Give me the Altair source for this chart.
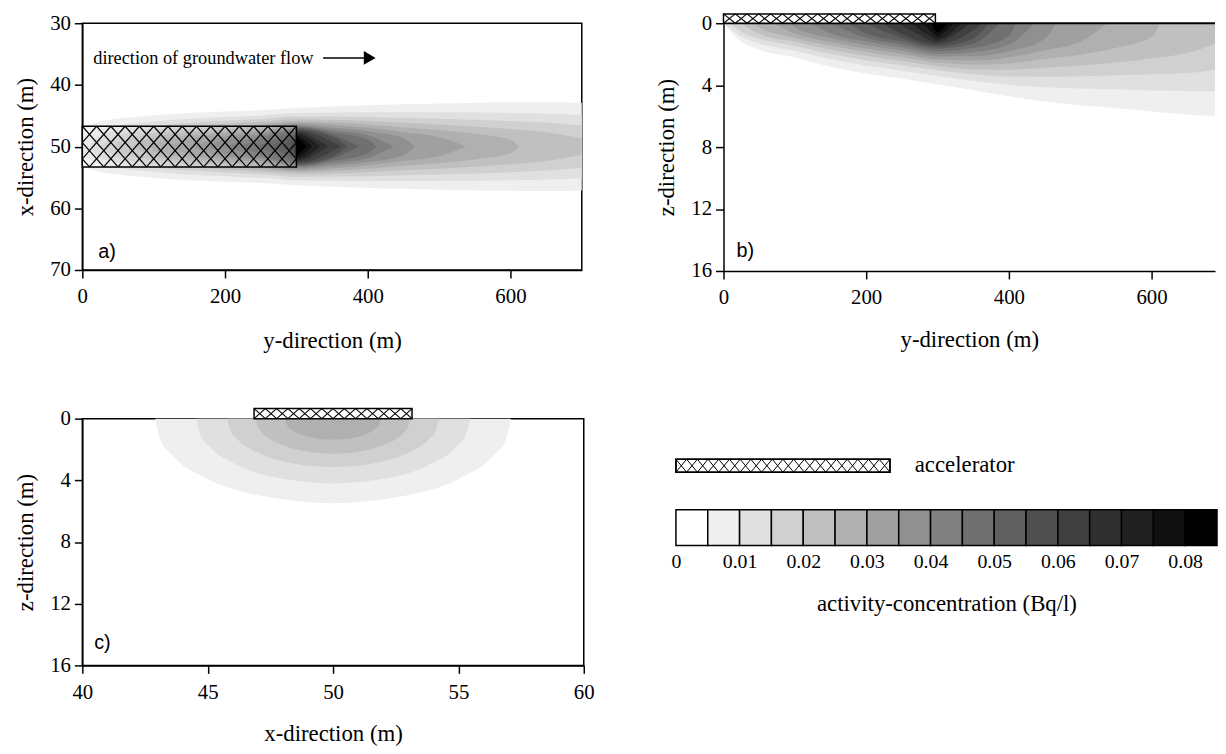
import altair as alt
import pandas as pd

SERIF = "Liberation Serif"
SANS = "Liberation Sans"

# ---------------- colour classes (activity concentration, Bq/l) ----------------
GRAYS = ["#ffffff", "#efefef", "#e0e0e0", "#d0d0d0", "#c0c0c0", "#b0b0b0",
         "#a0a0a0", "#909090", "#808080", "#707070", "#606060", "#505050",
         "#404040", "#303030", "#202020", "#101010", "#000000"]
CBAR_EDGES = [0.0, 0.005, 0.01, 0.015, 0.02, 0.025, 0.03, 0.035, 0.04, 0.045,
              0.05, 0.055, 0.06, 0.065, 0.07, 0.075, 0.08, 0.085]
CBAR_LABELS = [0.0, 0.01, 0.02, 0.03, 0.04, 0.05, 0.06, 0.07, 0.08]

# ---------------- panel a: plan view, half-width of each contour around x = 50 m ----------------
A_CENTER = 50.0
A_Y = {
    1: [0, 25, 50, 100, 150, 200, 250, 300, 350, 400, 450, 500, 550, 600, 650, 700],
    2: [0, 25, 50, 100, 150, 200, 250, 300, 350, 400, 450, 500, 550, 600, 650, 700],
    3: [9, 25, 50, 100, 150, 200, 250, 300, 350, 400, 450, 500, 550, 600, 650, 700],
    4: [25, 50, 100, 150, 200, 250, 300, 350, 400, 450, 500, 550, 600, 650, 700],
    5: [46, 50, 100, 150, 200, 250, 300, 350, 400, 450, 500, 550, 600, 612],
    6: [70, 100, 150, 200, 250, 300, 350, 400, 450, 500, 538],
    7: [95, 100, 150, 200, 250, 300, 350, 400, 450, 466],
    8: [122, 150, 200, 250, 300, 350, 400, 436],
    9: [150, 200, 250, 300, 350, 400, 412],
    10: [175, 200, 250, 300, 350, 388],
    11: [200, 250, 300, 350, 372],
    12: [222, 250, 300, 340, 362],
    13: [245, 270, 300, 325, 345],
    14: [263, 285, 300, 318, 333],
    15: [280, 292, 300, 310, 322],
    16: [292, 300, 306, 314],
}
A_HW = {
    1: [3.18, 4.08, 4.54, 5.07, 5.45, 5.69, 5.91, 6.27, 6.51, 6.70, 6.85, 6.99, 7.13, 7.17, 7.21, 7.11],
    2: [1.45, 2.88, 3.46, 4.08, 4.51, 4.80, 5.05, 5.44, 5.54, 5.58, 5.56, 5.56, 5.55, 5.46, 5.36, 5.12],
    3: [0.0, 1.86, 2.62, 3.37, 3.85, 4.19, 4.48, 4.88, 4.89, 4.80, 4.64, 4.52, 4.36, 4.14, 3.89, 3.44],
    4: [0.0, 1.81, 2.76, 3.31, 3.70, 4.02, 4.45, 4.36, 4.17, 3.85, 3.60, 3.28, 2.86, 2.33, 1.31],
    5: [0.0, 0.70, 2.18, 2.82, 3.27, 3.62, 4.08, 3.91, 3.60, 3.11, 2.68, 2.07, 1.11, 0.0],
    6: [0.0, 1.54, 2.34, 2.86, 3.27, 3.85, 3.49, 3.05, 2.34, 1.57, 0.0],
    7: [0.0, 0.61, 1.84, 2.47, 2.93, 3.60, 3.10, 2.50, 1.38, 0.0],
    8: [0.0, 1.26, 2.07, 2.60, 3.40, 2.75, 1.90, 0.0],
    9: [0.0, 1.65, 2.30, 3.20, 2.35, 1.13, 0.0],
    10: [0.0, 1.14, 2.00, 3.00, 1.95, 0.0],
    11: [0.0, 1.70, 2.80, 1.60, 0.0],
    12: [0.0, 1.30, 2.60, 1.40, 0.0],
    13: [0.0, 1.20, 2.40, 1.40, 0.0],
    14: [0.0, 1.30, 2.10, 1.30, 0.0],
    15: [0.0, 1.20, 1.80, 1.20, 0.0],
    16: [0.0, 1.40, 0.90, 0.0],
}

# ---------------- panel b: section along flow, depth reached by each contour ----------------
B_Y = {
    1: [0, 25, 50, 100, 150, 200, 250, 300, 350, 400, 450, 500, 550, 600, 650, 700],
    2: [0, 25, 50, 100, 150, 200, 250, 300, 350, 400, 450, 500, 550, 600, 650, 700],
    3: [9, 25, 50, 100, 150, 200, 250, 300, 350, 400, 450, 500, 550, 600, 650, 700],
    4: [25, 50, 100, 150, 200, 250, 300, 350, 400, 450, 500, 550, 600, 650, 700],
    5: [46, 50, 100, 150, 200, 250, 300, 350, 400, 450, 500, 550, 600, 612],
    6: [70, 100, 150, 200, 250, 300, 350, 400, 450, 500, 538],
    7: [95, 100, 150, 200, 250, 300, 350, 400, 450, 466],
    8: [122, 150, 200, 250, 300, 350, 400, 436],
    9: [150, 200, 250, 300, 350, 400, 410],
    10: [175, 200, 250, 300, 350, 387],
    11: [200, 250, 300, 350, 372],
    12: [222, 250, 300, 340, 362],
    13: [245, 270, 300, 325, 345],
    14: [263, 285, 300, 318, 333],
    15: [280, 292, 300, 310, 322],
    16: [292, 300, 306, 314],
}
B_Z = {
    1: [0.0, 1.20, 1.71, 2.21, 2.81, 3.24, 3.59, 3.95, 4.32, 4.72, 5.05, 5.30, 5.49, 5.70, 5.90, 6.05],
    2: [0.0, 0.85, 1.30, 1.78, 2.32, 2.73, 3.07, 3.40, 3.72, 3.98, 4.13, 4.22, 4.27, 4.34, 4.38, 4.40],
    3: [0.0, 0.55, 0.99, 1.47, 1.99, 2.39, 2.72, 3.04, 3.30, 3.44, 3.45, 3.43, 3.36, 3.29, 3.22, 2.93],
    4: [0.0, 0.68, 1.20, 1.71, 2.10, 2.44, 2.77, 2.98, 3.00, 2.87, 2.73, 2.53, 2.27, 1.93, 1.11],
    5: [0.0, 0.26, 0.95, 1.45, 1.86, 2.20, 2.54, 2.68, 2.60, 2.31, 2.03, 1.60, 0.88, 0.0],
    6: [0.0, 0.67, 1.21, 1.63, 1.98, 2.34, 2.41, 2.21, 1.74, 1.19, 0.0],
    7: [0.0, 0.26, 0.95, 1.41, 1.78, 2.15, 2.14, 1.81, 1.02, 0.0],
    8: [0.0, 0.65, 1.18, 1.58, 1.98, 1.87, 1.38, 0.0],
    9: [0.0, 0.94, 1.38, 1.81, 1.60, 0.82, 0.0],
    10: [0.0, 0.65, 1.18, 1.64, 1.31, 0.0],
    11: [0.0, 0.95, 1.50, 0.98, 0.0],
    12: [0.0, 0.69, 1.35, 0.75, 0.0],
    13: [0.0, 0.65, 1.20, 0.70, 0.0],
    14: [0.0, 0.70, 1.05, 0.65, 0.0],
    15: [0.0, 0.55, 0.85, 0.55, 0.0],
    16: [0.0, 0.60, 0.40, 0.0],
}

# ---------------- panel c: cross-section, depth of each contour across x ----------------
C_X = {
    1: [42.90, 43.10, 43.60, 45.00, 47.20, 50.00, 52.80, 55.00, 56.40, 56.90, 57.10],
    2: [44.53, 44.70, 45.08, 46.17, 47.81, 50.00, 52.19, 53.83, 54.92, 55.30, 55.47],
    3: [45.77, 45.90, 46.19, 47.04, 48.31, 50.00, 51.69, 52.96, 53.81, 54.10, 54.23],
    4: [46.92, 47.01, 47.23, 47.84, 48.77, 50.00, 51.23, 52.16, 52.77, 52.99, 53.08],
    5: [48.08, 48.14, 48.27, 48.66, 49.23, 50.00, 50.77, 51.34, 51.73, 51.86, 51.92],
}
C_Z = {
    1: [0.0, 1.33, 2.39, 3.91, 5.02, 5.48, 5.02, 3.91, 2.39, 1.33, 0.0],
    2: [0.0, 1.02, 1.83, 3.00, 3.85, 4.20, 3.85, 3.00, 1.83, 1.02, 0.0],
    3: [0.0, 0.76, 1.36, 2.23, 2.87, 3.13, 2.87, 2.23, 1.36, 0.76, 0.0],
    4: [0.0, 0.55, 0.99, 1.62, 2.08, 2.27, 2.08, 1.62, 0.99, 0.55, 0.0],
    5: [0.0, 0.33, 0.60, 0.98, 1.26, 1.37, 1.26, 0.98, 0.60, 0.33, 0.0],
}

# accelerator footprint
ACC_Y = [0.0, 300.0]          # along flow (m)
ACC_X = [46.7, 53.3]          # across flow (m)
ACC_ZTOP = -0.6               # drawn above ground level in the sections

# ---------------- layout (pixels) ----------------
W_A, H_A = 504, 249
W_B, H_B = 496, 250
W_C, H_C = 506, 249
W_L, H_L = 546, 128
A_YDOM, A_XDOM = [0, 700], [30, 70]
B_YDOM, Z_DOM = [0, 689], [0, 16]
C_XDOM = [40, 60]
TITLE_SIZE = 23
LABEL_SIZE = 21


def hatch(width_px, height_px, ph, pv):
    s = pv / ph
    run = height_px / s
    segs = []
    n = -int(run // ph) - 2
    while n * ph <= width_px + run + ph:
        c = n * ph
        a0, a1 = max(c, 0.0), min(c + run, width_px)
        if a1 - a0 > 1e-6:
            segs.append((a0, s * (a0 - c), a1, s * (a1 - c)))
        b0, b1 = max(c - run, 0.0), min(c, width_px)
        if b1 - b0 > 1e-6:
            segs.append((b0, s * (c - b0), b1, s * (c - b1)))
        n += 1
    return segs


def hatch_df(u_start, u_scale, v_start, v_scale, width_px, height_px, ph, pv):
    rows = []
    for ua, va, ub, vb in hatch(width_px, height_px, ph, pv):
        rows.append({"u1": u_start + ua / u_scale, "u2": u_start + ub / u_scale,
                     "v1": v_start + va / v_scale, "v2": v_start + vb / v_scale})
    return pd.DataFrame(rows)


axis_common = dict(tickSize=8, labelFontSize=LABEL_SIZE, titleFontSize=TITLE_SIZE, labelFont=SERIF,
                   titleFont=SERIF, titleFontWeight="normal", labelColor="black",
                   titleColor="black", domainColor="black", tickColor="black",
                   domainWidth=1.5, tickWidth=1.5, grid=False, labelFlush=False,
                   labelOverlap=False)

one = pd.DataFrame({"k": [0]})

# ================= panel a =================
xa = alt.Scale(domain=A_YDOM, nice=False, zero=False)
ya = alt.Scale(domain=A_XDOM, nice=False, zero=False, reverse=True)
axa = alt.Axis(values=[0, 200, 400, 600], title="y-direction (m)", labelPadding=8,
               titlePadding=23, **axis_common)
aya = alt.Axis(values=[30, 40, 50, 60, 70], title="x-direction (m)", labelPadding=4,
               titlePadding=12, **axis_common)

layers_a = []
for k in range(1, 17):
    df = pd.DataFrame({"y": A_Y[k],
                       "lo": [A_CENTER - h for h in A_HW[k]],
                       "hi": [A_CENTER + h for h in A_HW[k]]})
    layers_a.append(alt.Chart(df).mark_area(color=GRAYS[k], interpolate="monotone")
                    .encode(x=alt.X("y:Q", scale=xa, axis=axa),
                            y=alt.Y("lo:Q", scale=ya, axis=aya), y2="hi:Q"))

acc_a = pd.DataFrame({"y0": [ACC_Y[0]], "y1": [ACC_Y[1]], "x0": [ACC_X[0]], "x1": [ACC_X[1]]})
layers_a.append(alt.Chart(acc_a).mark_rect(fill="white", fillOpacity=0.3)
                .encode(x=alt.X("y0:Q", scale=xa, axis=axa), x2="y1:Q",
                        y=alt.Y("x0:Q", scale=ya, axis=aya), y2="x1:Q"))
pu_a = W_A / (A_YDOM[1] - A_YDOM[0])
pv_a = H_A / (A_XDOM[1] - A_XDOM[0])
wa = (ACC_Y[1] - ACC_Y[0]) * pu_a
ha = (ACC_X[1] - ACC_X[0]) * pv_a
ha_df = hatch_df(ACC_Y[0], pu_a, ACC_X[0], pv_a, wa, ha, wa / 15, ha / 2.5)
layers_a.append(alt.Chart(ha_df).mark_rule(color="black", strokeWidth=1.2)
                .encode(x=alt.X("u1:Q", scale=xa, axis=axa), x2="u2:Q",
                        y=alt.Y("v1:Q", scale=ya, axis=aya), y2="v2:Q"))
layers_a.append(alt.Chart(acc_a).mark_rect(fill=None, stroke="black", strokeWidth=1.5)
                .encode(x=alt.X("y0:Q", scale=xa, axis=axa), x2="y1:Q",
                        y=alt.Y("x0:Q", scale=ya, axis=aya), y2="x1:Q"))
layers_a.append(alt.Chart(one).mark_text(text="direction of groundwater flow", font=SERIF,
                                         fontSize=18.5, align="left", baseline="middle", color="black")
                .encode(x=alt.value(11), y=alt.value(35)))
layers_a.append(alt.Chart(one).mark_rule(color="black", strokeWidth=1.5)
                .encode(x=alt.value(243), x2=alt.value(286), y=alt.value(35)))
layers_a.append(alt.Chart(one).mark_point(shape="triangle-right", filled=True, size=190,
                                          color="black", opacity=1)
                .encode(x=alt.value(290), y=alt.value(35)))
layers_a.append(alt.Chart(one).mark_text(text="a)", font=SANS, fontSize=20, align="left",
                                         baseline="middle", color="black")
                .encode(x=alt.value(16), y=alt.value(231)))
panel_a = alt.layer(*layers_a).properties(
    width=W_A, height=H_A, view=alt.ViewBackground(stroke="black", strokeWidth=1.5))

# ================= panel b =================
xb = alt.Scale(domain=B_YDOM, nice=False, zero=False)
zb = alt.Scale(domain=Z_DOM, nice=False, zero=False, reverse=True)
axb = alt.Axis(values=[0, 200, 400, 600], title="y-direction (m)", labelPadding=8,
               titlePadding=21, **axis_common)
azb = alt.Axis(values=[0, 4, 8, 12, 16], title="z-direction (m)", labelPadding=4,
               titlePadding=12, **axis_common)
layers_b = []
for k in range(1, 17):
    df = pd.DataFrame({"y": B_Y[k], "z0": [0.0] * len(B_Y[k]), "z": B_Z[k]})
    layers_b.append(alt.Chart(df).mark_area(color=GRAYS[k], interpolate="monotone", clip=True)
                    .encode(x=alt.X("y:Q", scale=xb, axis=axb),
                            y=alt.Y("z0:Q", scale=zb, axis=azb), y2="z:Q"))
layers_b.append(alt.Chart(pd.DataFrame({"z": [0.0]})).mark_rule(color="black", strokeWidth=2)
                .encode(y=alt.Y("z:Q", scale=zb, axis=azb)))
acc_b = pd.DataFrame({"y0": [ACC_Y[0]], "y1": [ACC_Y[1] - 3], "z0": [ACC_ZTOP], "z1": [0.0]})
layers_b.append(alt.Chart(acc_b).mark_rect(fill="white")
                .encode(x=alt.X("y0:Q", scale=xb, axis=axb), x2="y1:Q",
                        y=alt.Y("z0:Q", scale=zb, axis=azb), y2="z1:Q"))
pu_b = W_B / (B_YDOM[1] - B_YDOM[0])
pv_b = H_B / (Z_DOM[1] - Z_DOM[0])
wb = (ACC_Y[1] - 3 - ACC_Y[0]) * pu_b
hb = (0.0 - ACC_ZTOP) * pv_b
hb_df = hatch_df(ACC_Y[0], pu_b, ACC_ZTOP, pv_b, wb, hb, wb / 18, hb)
layers_b.append(alt.Chart(hb_df).mark_rule(color="black", strokeWidth=1.1)
                .encode(x=alt.X("u1:Q", scale=xb, axis=axb), x2="u2:Q",
                        y=alt.Y("v1:Q", scale=zb, axis=azb), y2="v2:Q"))
layers_b.append(alt.Chart(acc_b).mark_rect(fill=None, stroke="black", strokeWidth=1.5)
                .encode(x=alt.X("y0:Q", scale=xb, axis=axb), x2="y1:Q",
                        y=alt.Y("z0:Q", scale=zb, axis=azb), y2="z1:Q"))
layers_b.append(alt.Chart(one).mark_text(text="b)", font=SANS, fontSize=20, align="left",
                                         baseline="middle", color="black")
                .encode(x=alt.value(13), y=alt.value(230)))
panel_b = alt.layer(*layers_b).properties(width=W_B, height=H_B)

# ================= panel c =================
xc = alt.Scale(domain=C_XDOM, nice=False, zero=False)
zc = alt.Scale(domain=Z_DOM, nice=False, zero=False, reverse=True)
axc = alt.Axis(values=[40, 45, 50, 55, 60], title="x-direction (m)", labelPadding=8,
               titlePadding=21, **axis_common)
azc = alt.Axis(values=[0, 4, 8, 12, 16], title="z-direction (m)", labelPadding=4,
               titlePadding=12, **axis_common)
layers_c = []
for k in range(1, 6):
    df = pd.DataFrame({"x": C_X[k], "z0": [0.0] * len(C_X[k]), "z": C_Z[k]})
    layers_c.append(alt.Chart(df).mark_area(color=GRAYS[k], interpolate="monotone")
                    .encode(x=alt.X("x:Q", scale=xc, axis=axc),
                            y=alt.Y("z0:Q", scale=zc, axis=azc), y2="z:Q"))
acc_c = pd.DataFrame({"x0": [46.85], "x1": [53.15], "z0": [-0.65], "z1": [0.0]})
layers_c.append(alt.Chart(acc_c).mark_rect(fill="white")
                .encode(x=alt.X("x0:Q", scale=xc, axis=axc), x2="x1:Q",
                        y=alt.Y("z0:Q", scale=zc, axis=azc), y2="z1:Q"))
pu_c = W_C / (C_XDOM[1] - C_XDOM[0])
pv_c = H_C / (Z_DOM[1] - Z_DOM[0])
wc = (53.15 - 46.85) * pu_c
hc = 0.65 * pv_c
hc_df = hatch_df(46.85, pu_c, -0.65, pv_c, wc, hc, wc / 14, hc)
layers_c.append(alt.Chart(hc_df).mark_rule(color="black", strokeWidth=1.1)
                .encode(x=alt.X("u1:Q", scale=xc, axis=axc), x2="u2:Q",
                        y=alt.Y("v1:Q", scale=zc, axis=azc), y2="v2:Q"))
layers_c.append(alt.Chart(acc_c).mark_rect(fill=None, stroke="black", strokeWidth=1.5)
                .encode(x=alt.X("x0:Q", scale=xc, axis=axc), x2="x1:Q",
                        y=alt.Y("z0:Q", scale=zc, axis=azc), y2="z1:Q"))
layers_c.append(alt.Chart(one).mark_text(text="c)", font=SANS, fontSize=20, align="left",
                                         baseline="middle", color="black")
                .encode(x=alt.value(12), y=alt.value(226)))
panel_c = alt.layer(*layers_c).properties(
    width=W_C, height=H_C, view=alt.ViewBackground(stroke="black", strokeWidth=1.5))

# ================= legend =================
cbar = pd.DataFrame({"lo": CBAR_EDGES[:-1], "hi": CBAR_EDGES[1:], "col": GRAYS})
xl = alt.Scale(domain=[CBAR_EDGES[0], CBAR_EDGES[-1]], nice=False, zero=False)
axl = alt.Axis(values=CBAR_LABELS, title="activity-concentration (Bq/l)",
               labelExpr="datum.value == 0 ? '0' : format(datum.value, '.2f')",
               domain=False, ticks=False, labelPadding=6, titlePadding=22,
               labelFontSize=20, titleFontSize=TITLE_SIZE, labelFont=SERIF, titleFont=SERIF,
               titleFontWeight="normal", labelColor="black", titleColor="black", grid=False,
               labelFlush=False, labelOverlap=False)
leg_bar = alt.Chart(cbar).mark_rect(stroke="black", strokeWidth=1.5).encode(
    x=alt.X("lo:Q", scale=xl, axis=axl), x2="hi:Q",
    y=alt.value(92), y2=alt.value(128),
    fill=alt.Fill("col:N", scale=None))
leg_acc = alt.Chart(one).mark_rect(fill="white", stroke="black", strokeWidth=1.5).encode(
    x=alt.value(0), x2=alt.value(216), y=alt.value(41), y2=alt.value(54))
hl_df = hatch_df(0.0, 1.0, 41.0, 1.0, 216.0, 13.0, 216.0 / 20, 13.0)
leg_hatch = alt.Chart(hl_df).mark_rule(color="black", strokeWidth=1.0).encode(
    x=alt.X("u1:Q", scale=None), x2="u2:Q", y=alt.Y("v1:Q", scale=None), y2="v2:Q")
leg_acc_border = alt.Chart(one).mark_rect(fill=None, stroke="black", strokeWidth=1.5).encode(
    x=alt.value(0), x2=alt.value(216), y=alt.value(41), y2=alt.value(54))
leg_text = alt.Chart(one).mark_text(text="accelerator", font=SERIF, fontSize=TITLE_SIZE, align="left",
                                    baseline="middle", color="black").encode(
    x=alt.value(241), y=alt.value(47))
legend = alt.layer(leg_bar, leg_acc, leg_hatch, leg_acc_border, leg_text).properties(
    width=W_L, height=H_L)

row1 = alt.hconcat(panel_a, panel_b, spacing=143, bounds="flush")
row2 = alt.hconcat(panel_c, legend, spacing=93, bounds="flush")
chart = alt.vconcat(row1, row2, spacing=54).properties(
    padding={"left": 6, "top": 0, "right": 0, "bottom": 0}, background="white"
).configure_view(stroke=None)

chart.save("out.html", embed_options={"renderer": "svg", "actions": False})
